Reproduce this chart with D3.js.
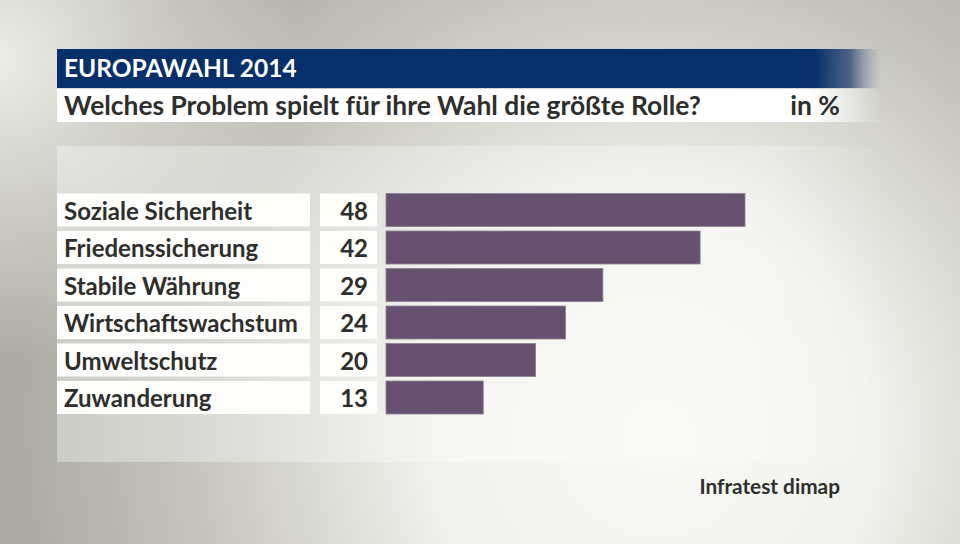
<!DOCTYPE html>
<html><head><meta charset="utf-8">
<script src="https://cdn.jsdelivr.net/npm/d3@7"></script>
<style>html,body{margin:0;padding:0;background:#c8c7c0;}svg{display:block;}</style>
</head><body>
<script>
const categories = ["Soziale Sicherheit","Friedenssicherung","Stabile Währung","Wirtschaftswachstum","Umweltschutz","Zuwanderung"];
const values = [48,42,29,24,20,13];
const title = "EUROPAWAHL 2014";
const subtitle = "Welches Problem spielt für ihre Wahl die größte Rolle?";
const unit = "in %";
const source = "Infratest dimap";

const W = 960, H = 544;
const svg = d3.select("body").append("svg").attr("width", W).attr("height", H);
const defs = svg.append("defs");

const bg = defs.append("radialGradient").attr("id","bg").attr("gradientUnits","userSpaceOnUse")
  .attr("cx",640).attr("cy",420).attr("r",620).attr("fx",660).attr("fy",440);
bg.append("stop").attr("offset","0").attr("stop-color","#f8f9f4");
bg.append("stop").attr("offset","0.35").attr("stop-color","#f2f3ee");
bg.append("stop").attr("offset","0.75").attr("stop-color","#c4c3bb");
bg.append("stop").attr("offset","1").attr("stop-color","#adaca4");
svg.append("rect").attr("width",W).attr("height",H).attr("fill","url(#bg)");

const tl = defs.append("radialGradient").attr("id","tl").attr("gradientUnits","userSpaceOnUse")
  .attr("cx",0).attr("cy",60).attr("r",300);
tl.append("stop").attr("offset","0").attr("stop-color","#f4f4ef").attr("stop-opacity",0.9);
tl.append("stop").attr("offset","1").attr("stop-color","#f4f4ef").attr("stop-opacity",0);
svg.append("rect").attr("width",W).attr("height",H).attr("fill","url(#tl)");

// panel
const pg = defs.append("linearGradient").attr("id","pg").attr("x1",0).attr("x2",1).attr("y1",0).attr("y2",0);
pg.append("stop").attr("offset","0").attr("stop-color","#ffffff").attr("stop-opacity",0.35);
pg.append("stop").attr("offset","0.85").attr("stop-color","#ffffff").attr("stop-opacity",0.25);
pg.append("stop").attr("offset","1").attr("stop-color","#ffffff").attr("stop-opacity",0);
svg.append("rect").attr("x",57).attr("y",146).attr("width",830).attr("height",316).attr("fill","url(#pg)");

// title bar
const tg = defs.append("linearGradient").attr("id","tg").attr("gradientUnits","userSpaceOnUse").attr("x1",57).attr("x2",882).attr("y1",0).attr("y2",0);
tg.append("stop").attr("offset","0").attr("stop-color","#072f6a");
tg.append("stop").attr("offset",(815-57)/825).attr("stop-color","#072f6a");
tg.append("stop").attr("offset",(850-57)/825).attr("stop-color","#35507a").attr("stop-opacity",0.85);
tg.append("stop").attr("offset","1").attr("stop-color","#8a96a6").attr("stop-opacity",0);
svg.append("rect").attr("x",57).attr("y",49).attr("width",825).attr("height",39).attr("fill","url(#tg)");

const sg = defs.append("linearGradient").attr("id","sg").attr("gradientUnits","userSpaceOnUse").attr("x1",57).attr("x2",882).attr("y1",0).attr("y2",0);
sg.append("stop").attr("offset","0").attr("stop-color","#ffffff");
sg.append("stop").attr("offset",(810-57)/825).attr("stop-color","#ffffff");
sg.append("stop").attr("offset","1").attr("stop-color","#ffffff").attr("stop-opacity",0);
svg.append("rect").attr("x",57).attr("y",89).attr("width",825).attr("height",33).attr("fill","url(#sg)");

const font = "Lato, 'Open Sans', sans-serif";
svg.append("text").attr("x",64).attr("y",77).text(title)
  .attr("fill","#ffffff").attr("font-family",font).attr("font-weight",700).attr("font-size",24.5);
svg.append("text").attr("x",64).attr("y",114.5).text(subtitle)
  .attr("fill","#2e2e2c").attr("font-family",font).attr("font-weight",700).attr("font-size",26.4);
svg.append("text").attr("x",840).attr("y",114.5).attr("text-anchor","end").text(unit)
  .attr("fill","#2e2e2c").attr("font-family",font).attr("font-weight",700).attr("font-size",26.4);

// scales
const y = d3.scaleBand().domain(categories).range([191.25, 416.25]).paddingInner(0.12).paddingOuter(0.06);
const x = d3.scaleLinear().domain([0, 48]).range([386, 745]);

const rows = svg.append("g").selectAll("g").data(categories).join("g")
  .attr("transform", d => `translate(0,${y(d)})`);
const bh = y.bandwidth();

rows.append("rect").attr("x",57).attr("width",253).attr("height",bh).attr("fill","#fdfdfb");
rows.append("rect").attr("x",320).attr("width",57).attr("height",bh).attr("fill","#fdfdfb");
rows.append("rect").attr("x",x(0)).attr("width",(d,i)=>x(values[i])-x(0)).attr("height",bh)
  .attr("fill","#66526e").attr("stroke","#8e7e94").attr("stroke-width",0.8);
rows.append("text").attr("x",64).attr("y",bh/2).attr("dy","0.4em").text(d=>d)
  .attr("fill","#2e2e2c").attr("font-family",font).attr("font-weight",700).attr("font-size",24);
rows.append("text").attr("x",368).attr("y",bh/2).attr("dy","0.4em").attr("text-anchor","end")
  .text((d,i)=>values[i])
  .attr("fill","#2e2e2c").attr("font-family",font).attr("font-weight",700).attr("font-size",24);

svg.append("text").attr("x",840).attr("y",494).attr("text-anchor","end").text(source)
  .attr("fill","#2e2e2c").attr("font-family",font).attr("font-weight",700).attr("font-size",20.8);
</script>
</body></html>
